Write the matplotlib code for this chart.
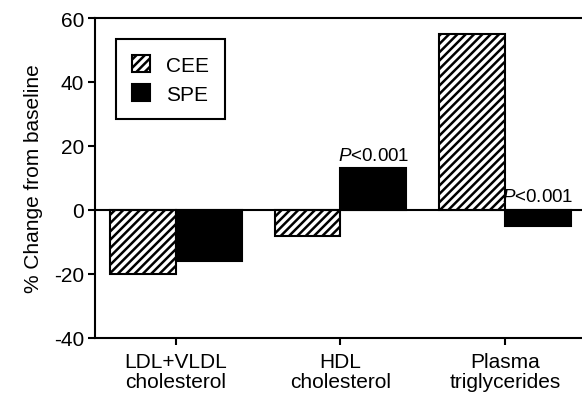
import matplotlib
matplotlib.use("Agg")
import matplotlib.pyplot as plt
import numpy as np

plt.rcParams['font.family'] = ['Liberation Sans', 'DejaVu Sans']
plt.rcParams['mathtext.fontset'] = 'custom'
plt.rcParams['mathtext.rm'] = 'Liberation Sans'
plt.rcParams['mathtext.it'] = 'Liberation Sans:italic'
plt.rcParams['hatch.linewidth'] = 1.8
plt.rcParams['axes.unicode_minus'] = False

categories = ["LDL+VLDL\ncholesterol", "HDL\ncholesterol", "Plasma\ntriglycerides"]
cee = [-20, -8, 55]
spe = [-16, 13, -5]
annotations = ["", "$P$<0.001", "$P$<0.001"]

fs = 15

fig = plt.figure(figsize=(5.82, 4.02), dpi=100)
ax = fig.add_axes([95 / 582, 63 / 402, 1.0 - 95 / 582, 320 / 402])

x = np.arange(len(categories))
w = 0.4
ax.bar(x - w / 2, cee, w, color='white', edgecolor='black', hatch='////',
       linewidth=1.5, label='CEE')
ax.bar(x + w / 2, spe, w, color='black', edgecolor='black',
       linewidth=1.5, label='SPE')

ax.axhline(0, color='black', linewidth=1.5)

for i, txt in enumerate(annotations):
    if txt:
        ax.text(x[i] + w / 2, max(spe[i], 0) + 1.5, txt, ha='center',
                va='bottom', fontsize=13.5)

ax.set_xlim(-0.49, 2.467)
ax.set_ylim(-40, 60)
ax.set_yticks([-40, -20, 0, 20, 40, 60])
ax.set_xticks(x)
ax.set_xticklabels(categories, fontsize=fs, linespacing=1.1)
ax.tick_params(axis='y', labelsize=fs, width=1.5, length=5, pad=3)
ax.tick_params(axis='x', width=1.5, length=5, pad=5)
ax.set_ylabel("% Change from baseline", fontsize=fs, labelpad=8)

ax.spines['right'].set_visible(False)
for s in ['left', 'bottom', 'top']:
    ax.spines[s].set_linewidth(1.5)

leg = ax.legend(loc='upper left', bbox_to_anchor=(0.043, 0.934), fontsize=fs,
                fancybox=False, edgecolor='black', framealpha=1,
                handlelength=0.9, handleheight=0.9, borderpad=0.75,
                labelspacing=0.45, handletextpad=0.75, borderaxespad=0)
leg.get_frame().set_linewidth(1.5)

fig.savefig("out.png", dpi=100)
